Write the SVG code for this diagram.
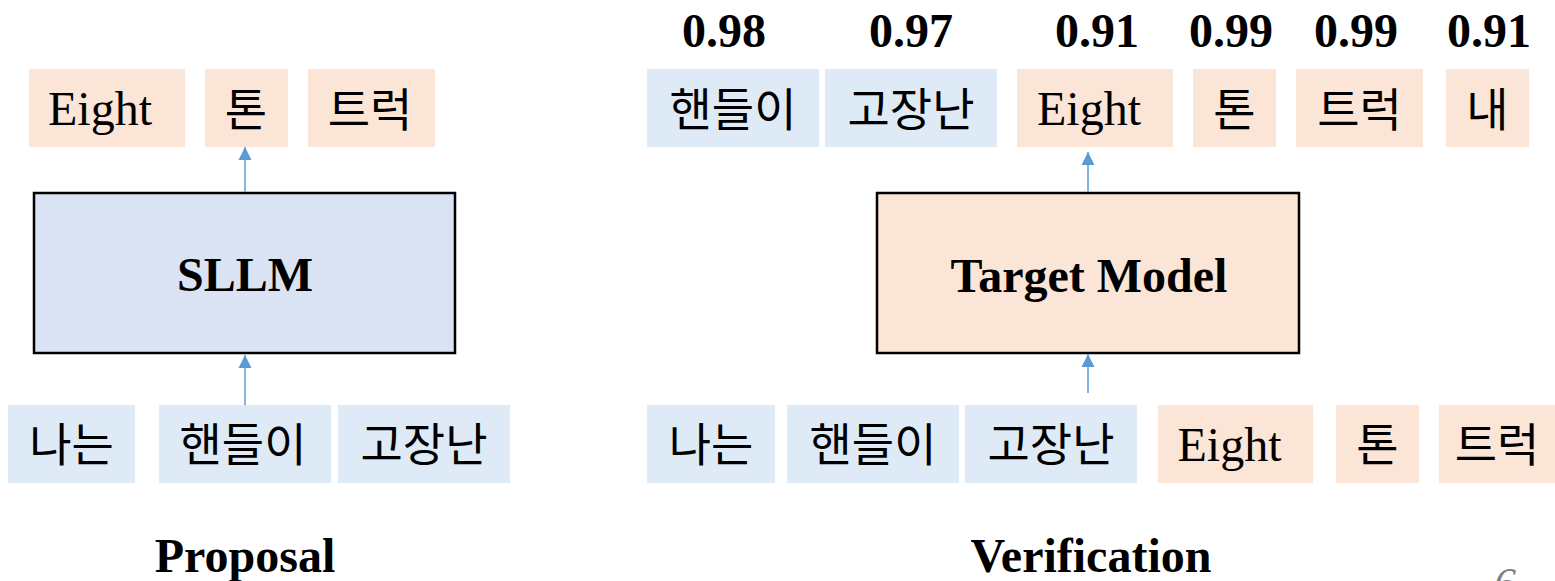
<svg xmlns="http://www.w3.org/2000/svg" width="1555" height="581" viewBox="0 0 1555 581">
  <style>
    .tok-b { fill: #DEEAF6; }
    .tok-o { fill: #FBE5D6; }
    .model { stroke: #000; stroke-width: 2.5; }
    .lat { font-family: "Liberation Serif", "Times New Roman", serif; font-size: 48px; fill: #000; text-anchor: middle; }
    .kor { font-family: "Noto Sans CJK KR", "Noto Sans", sans-serif; font-size: 46px; fill: #000; text-anchor: middle; }
    .bold { font-family: "Liberation Serif", "Times New Roman", serif; font-size: 48px; font-weight: bold; fill: #000; text-anchor: middle; }
    .conn { stroke: #5B9BD5; stroke-width: 1.5; fill: none; marker-end: url(#head); }
  </style>
  <defs>
    <marker id="head" viewBox="0 0 10 10" refX="10" refY="5" markerUnits="userSpaceOnUse" markerWidth="13" markerHeight="15" orient="auto">
      <path d="M0,0 L10,5 L0,10 Z" fill="#5B9BD5"/>
    </marker>
  </defs>

  <rect width="1555" height="581" fill="#fff"/>

  <!-- Proposal: draft model -->
  <g id="sllm">
    <rect class="model" x="34" y="193" width="421" height="160" fill="#DAE3F3"/>
    <text class="bold" x="245" y="291">SLLM</text>
  </g>
  <g id="p-out-eight"><rect class="tok-o" x="29" y="69" width="156" height="78"/><text class="lat" x="100" y="125">Eight</text></g>
  <g id="p-out-ton"><rect class="tok-o" x="205" y="69" width="83" height="78"/><text class="kor" x="246" y="126">톤</text></g>
  <g id="p-out-truck"><rect class="tok-o" x="308" y="69" width="127" height="78"/><text class="kor" x="370" y="126">트럭</text></g>

  <g id="p-in-naneun"><rect class="tok-b" x="8" y="405" width="127" height="78"/><text class="kor" x="71.5" y="461">나는</text></g>
  <g id="p-in-handle"><rect class="tok-b" x="159" y="405" width="172" height="78"/><text class="kor" x="243" y="461">핸들이</text></g>
  <g id="p-in-broken"><rect class="tok-b" x="338" y="405" width="172" height="78"/><text class="kor" x="424" y="461">고장난</text></g>

  <g id="label-proposal"><text class="bold" x="245" y="572">Proposal</text></g>

  <!-- Verification: target model -->
  <g id="target">
    <rect class="model" x="877" y="193" width="422" height="160" fill="#FBE5D6"/>
    <text class="bold" x="1089" y="292">Target Model</text>
  </g>

  <g id="scores">
    <text class="bold" x="724" y="47">0.98</text>
    <text class="bold" x="911" y="47">0.97</text>
    <text class="bold" x="1097" y="47">0.91</text>
    <text class="bold" x="1231" y="47">0.99</text>
    <text class="bold" x="1356" y="47">0.99</text>
    <text class="bold" x="1489" y="47">0.91</text>
  </g>

  <g id="v-out-handle"><rect class="tok-b" x="647" y="69" width="172" height="78"/><text class="kor" x="733" y="126">핸들이</text></g>
  <g id="v-out-broken"><rect class="tok-b" x="825" y="69" width="172" height="78"/><text class="kor" x="911" y="126">고장난</text></g>
  <g id="v-out-eight"><rect class="tok-o" x="1017" y="69" width="156" height="78"/><text class="lat" x="1089" y="125">Eight</text></g>
  <g id="v-out-ton"><rect class="tok-o" x="1193" y="69" width="83" height="78"/><text class="kor" x="1234.5" y="126">톤</text></g>
  <g id="v-out-truck"><rect class="tok-o" x="1296" y="69" width="127" height="78"/><text class="kor" x="1359.5" y="126">트럭</text></g>
  <g id="v-out-nae"><rect class="tok-o" x="1446" y="69" width="83" height="78"/><text class="kor" x="1487.5" y="126">내</text></g>

  <g id="v-in-naneun"><rect class="tok-b" x="647" y="405" width="128" height="78"/><text class="kor" x="711" y="461">나는</text></g>
  <g id="v-in-handle"><rect class="tok-b" x="787" y="405" width="172" height="78"/><text class="kor" x="873" y="461">핸들이</text></g>
  <g id="v-in-broken"><rect class="tok-b" x="965" y="405" width="172" height="78"/><text class="kor" x="1051" y="461">고장난</text></g>
  <g id="v-in-eight"><rect class="tok-o" x="1158" y="405" width="155" height="78"/><text class="lat" x="1229.5" y="461">Eight</text></g>
  <g id="v-in-ton"><rect class="tok-o" x="1336" y="405" width="83" height="78"/><text class="kor" x="1377.5" y="461">톤</text></g>
  <g id="v-in-truck"><rect class="tok-o" x="1439" y="405" width="116" height="78"/><text class="kor" x="1497" y="461">트럭</text></g>

  <g id="label-verification"><text class="bold" x="1091" y="572">Verification</text></g>

  <!-- page number, clipped by the bottom edge -->
  <g id="page-number"><text x="1505" y="598" font-family="Liberation Serif, serif" font-size="44" font-style="italic" fill="#808080" text-anchor="middle">6</text></g>

  <g id="connectors">
    <line class="conn" x1="245" y1="192" x2="245" y2="147"/>
    <line class="conn" x1="245" y1="405" x2="245" y2="355"/>
    <line class="conn" x1="1088" y1="192" x2="1088" y2="152"/>
    <line class="conn" x1="1088" y1="393" x2="1088" y2="354"/>
  </g>
</svg>
